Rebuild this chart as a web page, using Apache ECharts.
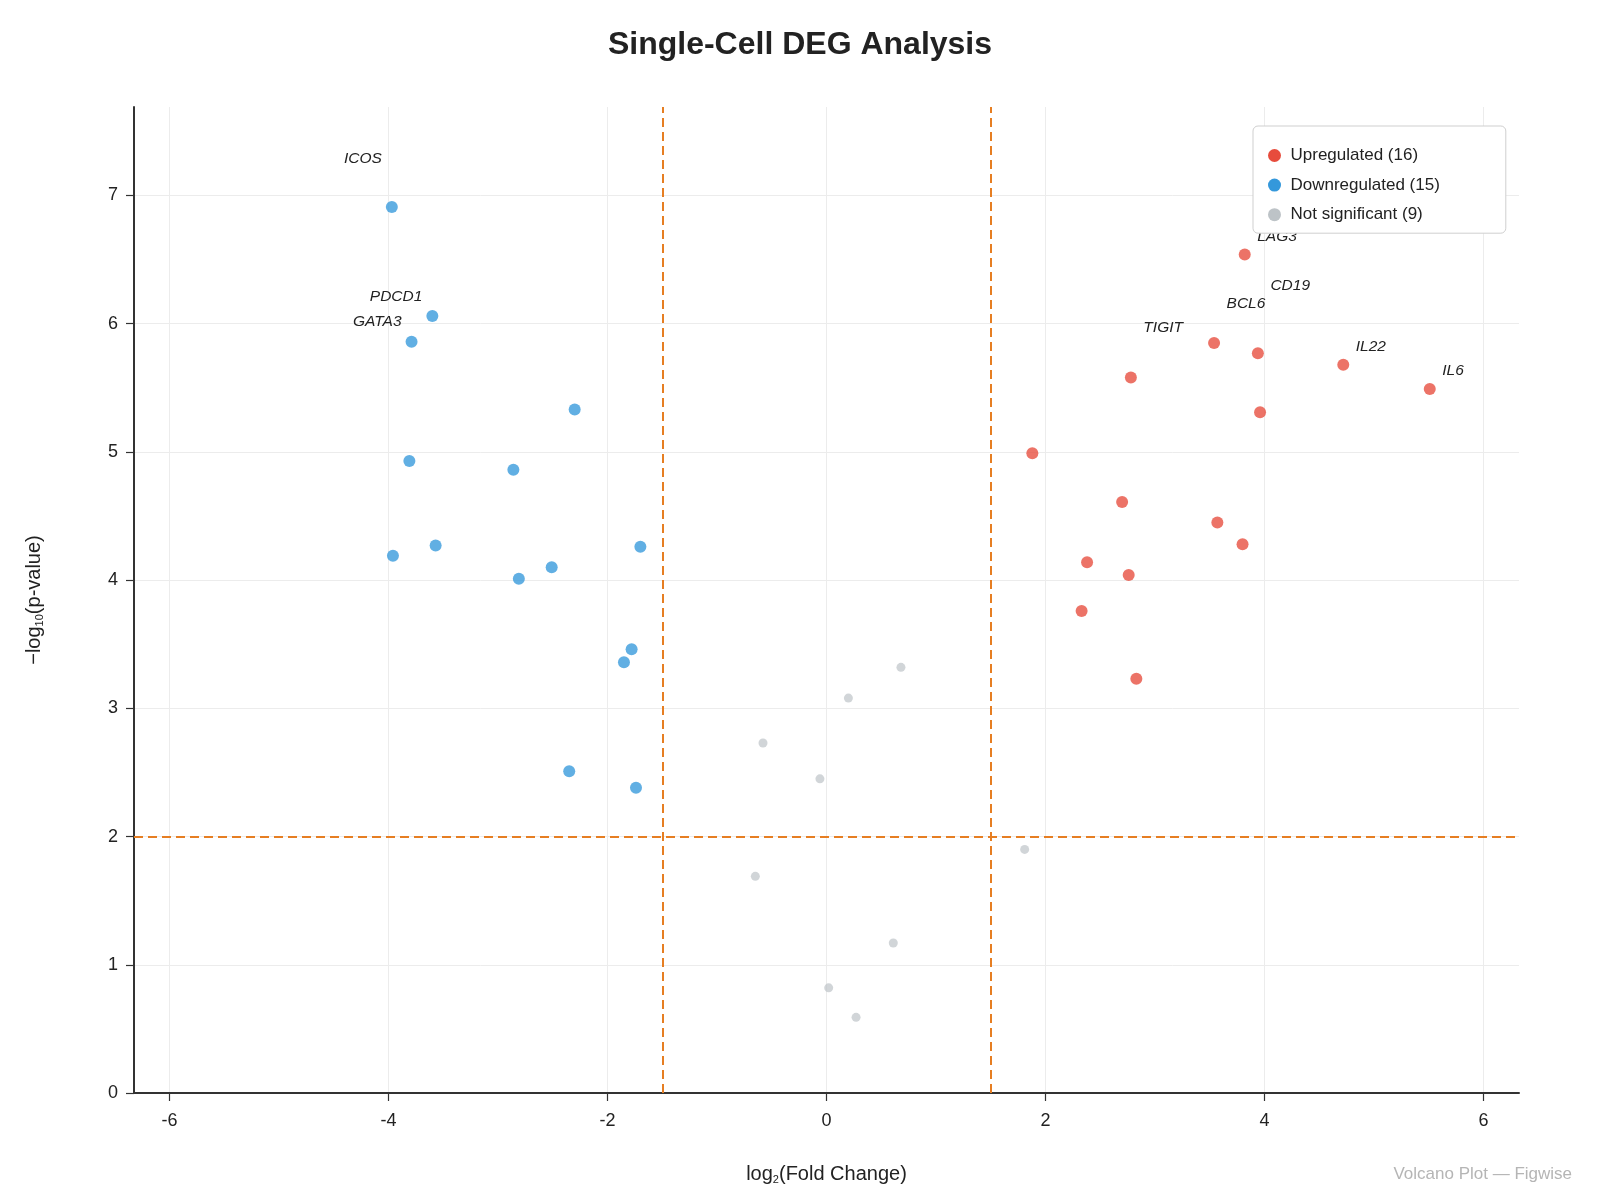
<!DOCTYPE html>
<html>
<head>
<meta charset="utf-8">
<script src="https://cdn.jsdelivr.net/npm/echarts@6/dist/echarts.min.js"></script>
<style>
html,body{margin:0;padding:0;background:#fff;}
#chart{width:1600px;height:1200px;}
</style>
</head>
<body>
<div id="chart"></div>
<script>
// ---- Data ----
const upX = [3.82, 3.54, 3.94, 4.72, 2.78, 5.51, 3.96, 1.88, 2.70, 3.57, 3.80, 2.38, 2.76, 2.33, 2.83];
const upY = [6.54, 5.85, 5.77, 5.68, 5.58, 5.49, 5.31, 4.99, 4.61, 4.45, 4.28, 4.14, 4.04, 3.76, 3.23];
const upGene = ['LAG3', 'BCL6', 'CD19', 'IL22', 'TIGIT', 'IL6', '', '', '', '', '', '', '', '', ''];

const downX = [-3.97, -3.60, -3.79, -2.30, -3.81, -2.86, -3.96, -3.57, -1.70, -2.51, -2.81, -1.78, -1.85, -2.35, -1.74];
const downY = [6.91, 6.06, 5.86, 5.33, 4.93, 4.86, 4.19, 4.27, 4.26, 4.10, 4.01, 3.46, 3.36, 2.51, 2.38];
const downGene = ['ICOS', 'PDCD1', 'GATA3', '', '', '', '', '', '', '', '', '', '', '', ''];

const nsX = [0.68, 0.20, -0.58, -0.06, 1.81, -0.65, 0.61, 0.02, 0.27];
const nsY = [3.32, 3.08, 2.73, 2.45, 1.90, 1.69, 1.17, 0.82, 0.59];

const seriesNames = ['Upregulated (16)', 'Downregulated (15)', 'Not significant (9)'];
const xTicks = [-6, -4, -2, 0, 2, 4, 6];
const yTicks = [0, 1, 2, 3, 4, 5, 6, 7];
const fcThreshold = 1.5;
const pThreshold = 2;
const xRange = [-6.325, 6.325];
const yRange = [0, 7.69];

// ---- label styling (pixel offsets of gene labels) ----
const labelDy = { LAG3: -17.5, BCL6: -39, CD19: -67, IL22: -18.5, TIGIT: -50, IL6: -18.5, ICOS: -48, PDCD1: -19.5, GATA3: -19.5 };

const FONT = 'Liberation Sans, Arial, Helvetica, sans-serif';

function buildData(xs, ys, genes, side) {
  return xs.map((x, i) => {
    const g = genes ? genes[i] : '';
    const item = { value: [x, ys[i]] };
    if (g) {
      item.label = {
        show: true,
        formatter: g,
        position: 'inside',
        align: side === 'right' ? 'left' : 'right',
        verticalAlign: 'middle',
        offset: [side === 'right' ? 12.5 : -10, labelDy[g]],
        color: '#222',
        opacity: 1,
        fontStyle: 'italic',
        fontSize: 15.5,
        fontFamily: FONT
      };
    }
    return item;
  });
}

const chart = echarts.init(document.getElementById('chart'), null, { renderer: 'canvas' });

const option = {
  backgroundColor: '#fff',
  animation: false,
  textStyle: { fontFamily: FONT },
  title: {
    text: 'Single-Cell DEG Analysis',
    left: 'center',
    top: 24,
    textStyle: { fontSize: 32, fontWeight: 'bold', color: '#222', fontFamily: FONT }
  },
  legend: {
    orient: 'vertical',
    left: 1253,
    top: 126,
    padding: [21, 66, 10, 15],
    itemWidth: 22,
    itemHeight: 13,
    itemGap: 12.6,
    backgroundColor: '#fff',
    borderColor: '#cfcfcf',
    borderWidth: 1,
    borderRadius: 5,
    textStyle: { fontSize: 17, color: '#222', lineHeight: 17, fontFamily: FONT },
    data: [
      { name: seriesNames[0], icon: 'circle', itemStyle: { color: '#e74c3c', opacity: 1 } },
      { name: seriesNames[1], icon: 'circle', itemStyle: { color: '#3498db', opacity: 1 } },
      { name: seriesNames[2], icon: 'circle', itemStyle: { color: '#bdc3c7', opacity: 1 } }
    ]
  },
  grid: { left: 134, right: 81, top: 107, bottom: 107, containLabel: false },
  xAxis: {
    type: 'value',
    min: xRange[0],
    max: xRange[1],
    name: 'log{sub|2}(Fold Change)',
    nameLocation: 'middle',
    nameGap: 70,
    nameTextStyle: {
      fontSize: 20, color: '#222', fontFamily: FONT,
      rich: { sub: { fontSize: 11, padding: [11, 0, 0, 0], fontFamily: FONT, color: '#222' } }
    },
    axisLine: { show: true, onZero: false, lineStyle: { color: '#333', width: 2 } },
    axisTick: { show: true, customValues: xTicks, length: 8, lineStyle: { color: '#333', width: 1.2 } },
    axisLabel: { customValues: xTicks, fontSize: 18, color: '#222', margin: 19, fontFamily: FONT },
    splitLine: { show: true, lineStyle: { color: '#ececec', width: 1 } }
  },
  yAxis: {
    type: 'value',
    min: yRange[0],
    max: yRange[1],
    name: '−log{sub|10}(p-value)',
    nameLocation: 'middle',
    nameGap: 89,
    nameTextStyle: {
      fontSize: 20, color: '#222', fontFamily: FONT,
      rich: { sub: { fontSize: 11, padding: [11, 0, 0, 0], fontFamily: FONT, color: '#222' } }
    },
    axisLine: { show: true, onZero: false, lineStyle: { color: '#333', width: 2 } },
    axisTick: { show: true, customValues: yTicks, length: 8, lineStyle: { color: '#333', width: 1.2 } },
    axisLabel: { customValues: yTicks, fontSize: 18, color: '#222', margin: 16, fontFamily: FONT },
    splitLine: { show: true, lineStyle: { color: '#ececec', width: 1 } }
  },
  graphic: [{
    type: 'text',
    right: 28,
    top: 1166,
    style: { text: 'Volcano Plot — Figwise', fontSize: 17, fill: '#b5b5b5', fontFamily: FONT }
  }],
  series: [
    {
      name: seriesNames[0],
      type: 'scatter',
      symbolSize: 12,
      itemStyle: { color: '#e74c3c', opacity: 0.78 },
      data: buildData(upX, upY, upGene, 'right'),
      z: 3
    },
    {
      name: seriesNames[1],
      type: 'scatter',
      symbolSize: 12,
      itemStyle: { color: '#3498db', opacity: 0.78 },
      data: buildData(downX, downY, downGene, 'left'),
      z: 3
    },
    {
      name: seriesNames[2],
      type: 'scatter',
      symbolSize: 9,
      itemStyle: { color: '#bdc3c7', opacity: 0.7 },
      data: buildData(nsX, nsY, null, 'right'),
      z: 3,
      markLine: {
        silent: true,
        symbol: ['none', 'none'],
        label: { show: false },
        lineStyle: { color: '#e67e22', type: [9, 5], width: 2, opacity: 1 },
        emphasis: { disabled: true },
        data: [
          { xAxis: -fcThreshold },
          { xAxis: fcThreshold },
          { yAxis: pThreshold }
        ],
        z: 2
      }
    }
  ]
};
chart.setOption(option);
</script>
</body>
</html>
